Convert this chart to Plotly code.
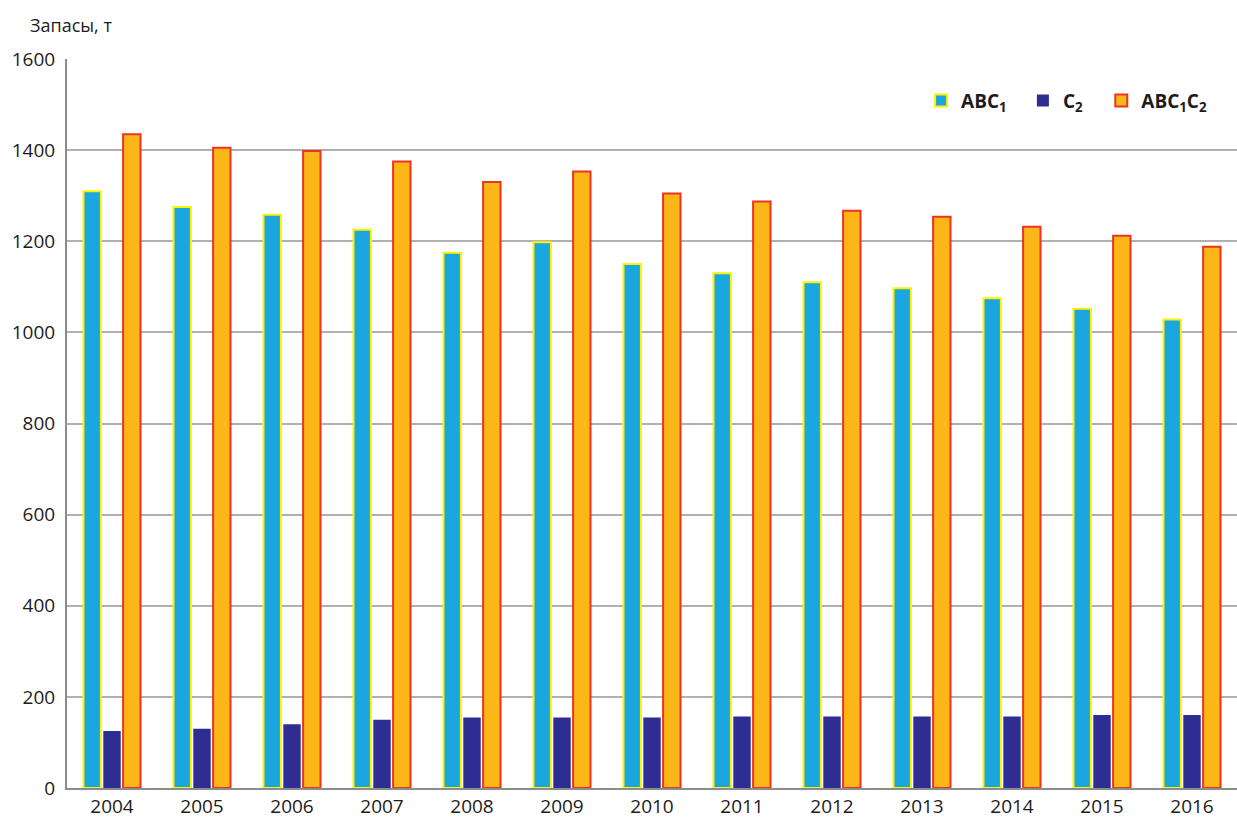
import plotly.graph_objects as go

years = ["2004", "2005", "2006", "2007", "2008", "2009", "2010",
         "2011", "2012", "2013", "2014", "2015", "2016"]
abc1 = [1310, 1275, 1258, 1225, 1175, 1198, 1150, 1130, 1110, 1097, 1075, 1052, 1028]
c2 = [125, 130, 140, 150, 155, 155, 155, 157, 157, 157, 157, 160, 160]
abc1c2 = [1435, 1405, 1398, 1375, 1330, 1353, 1305, 1287, 1267, 1254, 1232, 1212, 1188]

font_family = "Open Sans, Noto Sans, sans-serif"
ink = "#1e1b1c"

fig = go.Figure()
fig.add_trace(go.Bar(
    x=years, y=abc1, name="<b>ABC<sub>1</sub></b>", legend="legend",
    marker=dict(color="#1aa6df", line=dict(color="#fff200", width=2)),
))
fig.add_trace(go.Bar(
    x=years, y=c2, name="<b>C<sub>2</sub></b>", legend="legend2",
    marker=dict(color="#2e2d91", line=dict(color="#2e2d91", width=0)),
))
fig.add_trace(go.Bar(
    x=years, y=abc1c2, name="<b>ABC<sub>1</sub>C<sub>2</sub></b>", legend="legend3",
    marker=dict(color="#fbb617", line=dict(color="#ee3224", width=2)),
))


def legend_at(x):
    return dict(
        orientation="h", x=x, y=0.943, xanchor="left", yanchor="middle",
        font=dict(size=19, color=ink), bgcolor="rgba(0,0,0,0)",
        itemsizing="constant", itemwidth=30,
    )


fig.update_layout(
    width=1237, height=819,
    margin=dict(l=67, r=0, t=59, b=29),
    paper_bgcolor="white", plot_bgcolor="white",
    barmode="group", bargap=0.34, bargroupgap=0.12,
    font=dict(family=font_family, size=19, color=ink),
    showlegend=True,
    legend=legend_at(0.730),
    legend2=legend_at(0.817),
    legend3=legend_at(0.884),
    annotations=[dict(
        text="Запасы, т", xref="paper", yref="paper", x=-0.033, y=1.028,
        xanchor="left", yanchor="bottom", showarrow=False,
        font=dict(size=18, color=ink),
    )],
)
fig.update_xaxes(
    showline=True, linecolor="#8c8c8c", linewidth=2,
    ticks="", showgrid=False, tickfont=dict(size=19),
)
fig.update_yaxes(
    range=[0, 1600], dtick=200, showline=True, linecolor="#8c8c8c", linewidth=2,
    gridcolor="#b0b0b0", gridwidth=1.5, zeroline=False, ticks="",
    tickfont=dict(size=19), ticklabelstandoff=6,
)

fig.write_html("out.html")
